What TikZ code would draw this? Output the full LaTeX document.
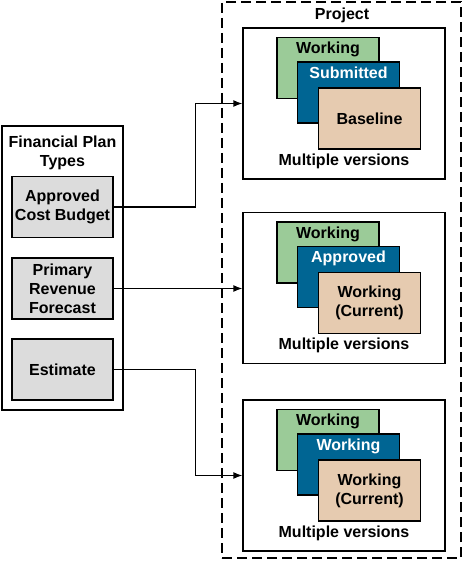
\documentclass[tikz,border=0pt]{standalone}
\usepackage{fontspec}
\setmainfont{Liberation Sans}
\usetikzlibrary{arrows.meta}

\definecolor{planGray}{HTML}{DCDCDC}
\definecolor{verGreen}{HTML}{9BCB98}
\definecolor{verBlue}{HTML}{006593}
\definecolor{verTan}{HTML}{E6CBB0}

\tikzset{
    txt/.style={font=\fontsize{16}{19}\selectfont\bfseries, align=center},
    plan/.style={txt, draw, fill=planGray, minimum width=101, minimum height=61, inner sep=1pt},
    set/.style={draw, minimum width=202, minimum height=151},
    ver/.style={draw, minimum width=102, minimum height=61, txt},
    top/.style={anchor=north, inner sep=4.5pt, txt},
    arr/.style={-{Latex[length=9pt,width=7pt]}},
}

\begin{document}
\begin{tikzpicture}[x=1pt, y=-1pt, line width=1.3pt]
        \useasboundingbox (0,0) rectangle (464,561);

        %% types de plans
        \node [draw, minimum width=121, minimum height=284] (types) at (62.5,268) {};
        \node [txt] (typesTitle) at (62.5,152.5) {Financial Plan\\Types};
        \node [plan] (cost) at (62.5,207) {Approved\\Cost Budget};
        \node [plan] (revenue) at (62.5,288.5) {Primary\\Revenue\\Forecast};
        \node [plan] (estimate) at (62.5,369.5) {Estimate};

        %% projet
        \node [draw, dashed, dash pattern=on 10pt off 5pt, minimum width=239, minimum height=556] (project) at (341.5,280) {};
        \node [txt] (projectTitle) at (342,15.5) {Project};

        %% premier ensemble
        \node [set] (set1) at (344,103.5) {};
        \node [ver, fill=verGreen, label={[top]north:Working}] (green1) at (328,68) {};
        \node [ver, fill=verBlue, label={[top, text=white]north:Submitted}] (blue1) at (348.5,92.5) {};
        \node [ver, fill=verTan] (tan1) at (369.5,118.5) {Baseline};
        \node [txt] (multi1) at (344,161) {Multiple versions};

        %% deuxieme ensemble
        \node [set] (set2) at (344,288) {};
        \node [ver, fill=verGreen, label={[top]north:Working}] (green2) at (328,252.5) {};
        \node [ver, fill=verBlue, label={[top, text=white]north:Approved}] (blue2) at (348.5,277) {};
        \node [ver, fill=verTan] (tan2) at (369.5,303) {Working\\(Current)};
        \node [txt] (multi2) at (344,345.5) {Multiple versions};

        %% troisieme ensemble
        \node [set] (set3) at (344,475.5) {};
        \node [ver, fill=verGreen, label={[top]north:Working}] (green3) at (328,440) {};
        \node [ver, fill=verBlue, label={[top, text=white]north:Working}] (blue3) at (348.5,464.5) {};
        \node [ver, fill=verTan] (tan3) at (369.5,490.5) {Working\\(Current)};
        \node [txt] (multi3) at (344,533) {Multiple versions};

        %% liens
        \draw [arr] (cost.east) -- ++(82,0) |- (set1.west);
        \draw [arr] (revenue.east) -- (revenue.east -| set2.west);
        \draw [arr] (estimate.east) -- ++(82,0) |- (set3.west);

    \end{tikzpicture}
\end{document}
